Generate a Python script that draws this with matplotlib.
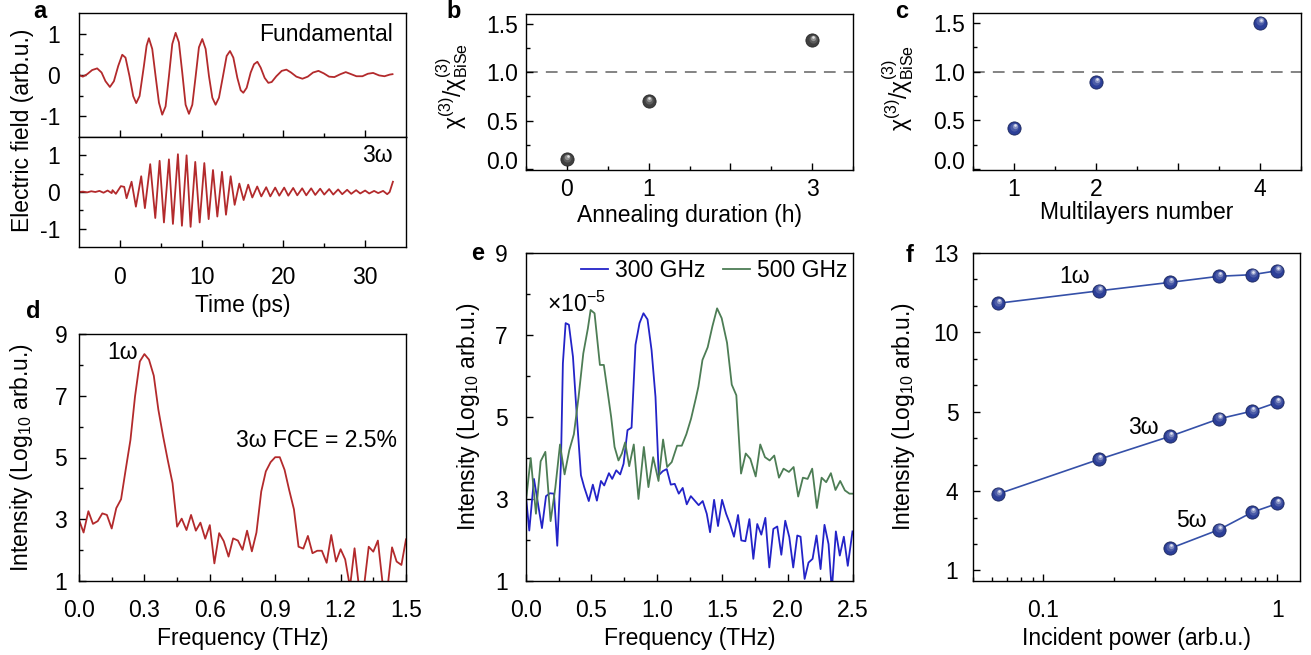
import numpy as np
import matplotlib
matplotlib.use("Agg")
import matplotlib.pyplot as plt
from matplotlib.transforms import ScaledTranslation
from matplotlib.colors import to_rgb
from matplotlib.ticker import MultipleLocator, FixedLocator, NullFormatter, LogLocator

plt.rcParams['font.family'] = ['Liberation Sans', 'DejaVu Sans']
plt.rcParams['mathtext.fontset'] = 'custom'
plt.rcParams['mathtext.rm'] = 'Liberation Sans'
plt.rcParams['mathtext.it'] = 'Liberation Sans:italic'
plt.rcParams['mathtext.bf'] = 'Liberation Sans:bold'
plt.rcParams['axes.linewidth'] = 1.0
plt.rcParams['lines.solid_joinstyle'] = 'round'

FS = 16.5   # labels and annotations
TS = 16.5   # tick labels

# ---- panel a: time-domain waveforms ----
t_fund = [-5.02, -4.53, -4.0, -3.39, -2.78, -2.24, -1.76, -1.22, -0.73, -0.2, 0.29, 0.69,
          1.18, 1.63, 2.0, 2.41, 2.94, 3.27, 3.55, 3.96, 4.37, 4.78, 5.18, 5.59, 6.0, 6.41,
          6.82, 7.22, 7.63, 8.04, 8.45, 8.86, 9.27, 9.67, 10.08, 10.49, 10.9, 11.31, 11.71,
          12.12, 12.61, 13.06, 13.47, 13.88, 14.37, 14.78, 15.1, 15.51, 16.0, 16.41, 16.82,
          17.22, 17.71, 18.16, 18.57, 19.14, 19.8, 20.37, 20.94, 21.59, 22.33, 22.98, 23.63,
          24.29, 24.94, 25.59, 26.24, 26.98, 27.63, 28.29, 28.94, 29.67, 30.33, 30.98, 31.71,
          32.37, 33.02, 33.35]
e_fund = [0.0, -0.04, 0.02, 0.12, 0.16, 0.06, -0.15, -0.29, -0.15, 0.22, 0.49, 0.42,
          -0.03, -0.51, -0.68, -0.51, 0.22, 0.71, 0.89, 0.63, -0.03, -0.67, -0.96, -0.76,
          -0.03, 0.75, 1.02, 0.79, 0.06, -0.72, -0.94, -0.72, -0.03, 0.67, 0.87, 0.63,
          -0.03, -0.55, -0.72, -0.55, -0.03, 0.46, 0.58, 0.42, -0.07, -0.37, -0.43, -0.31,
          0.06, 0.26, 0.32, 0.18, -0.07, -0.19, -0.17, -0.03, 0.1, 0.13, 0.06, -0.04, -0.09,
          -0.04, 0.06, 0.1, 0.04, -0.04, -0.05, 0.02, 0.07, 0.02, -0.03, -0.03, 0.03, 0.05,
          -0.01, -0.03, 0.01, 0.02]

t_third = [-5.0, -4.5, -4.0, -3.5, -3.0, -2.5, -2.0, -1.5, -1.0, -0.9, -0.49, 0.12, 0.53,
           0.82, 1.43, 1.96, 2.61, 3.06, 3.71, 4.33, 4.86, 5.39, 6.0, 6.49, 7.1, 7.59, 8.16,
           8.65, 9.22, 9.76, 10.33, 10.86, 11.39, 11.92, 12.49, 12.98, 13.55, 14.04, 14.61,
           15.14, 15.7, 16.2, 16.8, 17.3, 17.9, 18.4, 19.0, 19.5, 20.1, 20.6, 21.2, 21.7,
           22.3, 22.8, 23.4, 23.9, 24.5, 25.0, 25.6, 26.1, 26.7, 27.2, 27.8, 28.3, 28.9,
           29.4, 30.0, 30.5, 31.1, 31.6, 32.2, 32.7, 33.0, 33.4]
e_third = [0.0, 0.01, -0.01, 0.02, 0.0, 0.03, -0.02, 0.04, -0.03, 0.05, -0.05, 0.16, 0.14,
           -0.17, 0.28, -0.40, 0.43, -0.44, 0.76, -0.71, 0.85, -0.83, 0.89, -0.87, 1.03,
           -0.92, 1.0, -0.95, 0.82, -0.83, 0.79, -0.74, 0.6, -0.67, 0.55, -0.62, 0.43, -0.35,
           0.23, -0.22, 0.2, -0.15, 0.15, -0.12, 0.13, -0.12, 0.12, -0.1, 0.12, -0.1, 0.11,
           -0.09, 0.1, -0.09, 0.1, -0.08, 0.09, -0.07, 0.08, -0.07, 0.07, -0.06, 0.06, -0.05,
           0.05, -0.04, 0.04, -0.04, 0.03, -0.03, 0.03, -0.06, 0.0, 0.28]

# ---- panels b, c: normalised chi(3) ----
anneal_h = [0, 1, 3]
chi_anneal = [0.10, 0.70, 1.33]
layers = [1, 2, 4]
chi_layers = [0.42, 0.89, 1.50]

# ---- panel d: spectrum of the 300 GHz drive ----
freq_d = [0, .021, .043, .064, .086, .107, .128, .150, .171, .193, .214, .236, .257, .279,
          .300, .321, .343, .364, .386, .407, .429, .450, .471, .493, .514, .536, .557, .579,
          .600, .621, .643, .664, .686, .707, .729, .750, .771, .793, .814, .836, .857, .879,
          .900, .921, .943, .964, .986, 1.007, 1.029, 1.050, 1.071, 1.093, 1.114, 1.136,
          1.157, 1.179, 1.200, 1.221, 1.243, 1.264, 1.286, 1.307, 1.329, 1.350, 1.371, 1.393,
          1.414, 1.436, 1.457, 1.479, 1.500]
int_d = [2.98, 2.57, 3.26, 2.85, 2.94, 3.19, 3.14, 2.70, 3.36, 3.65, 4.60, 5.57, 6.98, 8.11,
         8.35, 8.17, 7.65, 6.55, 5.68, 4.92, 4.17, 2.76, 3.02, 2.65, 3.14, 2.63, 2.89, 2.37,
         2.81, 1.57, 2.55, 2.29, 1.79, 2.38, 2.31, 2.01, 2.63, 1.96, 2.57, 3.90, 4.55, 4.85,
         5.01, 5.01, 4.60, 3.95, 3.32, 2.11, 2.05, 2.46, 1.90, 1.98, 1.98, 1.59, 2.49, 1.63,
         2.03, 1.70, 0.80, 2.06, 0.70, 0.80, 2.11, 1.95, 2.31, 0.90, 0.70, 2.09, 1.63, 1.52,
         2.35]

# ---- panel e: spectra for two drive frequencies ----
freq_300 = [0, 0.025, 0.061, 0.092, 0.122, 0.153, 0.183, 0.214, 0.239, 0.267, 0.282, 0.303,
            0.328, 0.359, 0.389, 0.42, 0.445, 0.48, 0.511, 0.542, 0.573, 0.598, 0.634, 0.659,
            0.69, 0.72, 0.746, 0.776, 0.807, 0.837, 0.868, 0.898, 0.929, 0.96, 0.99, 1.015,
            1.046, 1.076, 1.107, 1.137, 1.168, 1.198, 1.229, 1.26, 1.29, 1.32, 1.351, 1.382,
            1.407, 1.438, 1.468, 1.499, 1.53, 1.56, 1.59, 1.621, 1.646, 1.677, 1.708, 1.738,
            1.768, 1.799, 1.83, 1.86, 1.891, 1.921, 1.952, 1.982, 2.013, 2.043, 2.074, 2.099,
            2.13, 2.16, 2.191, 2.221, 2.252, 2.282, 2.313, 2.338, 2.369, 2.399, 2.43, 2.46,
            2.496]
int_300 = [3.05, 2.23, 3.49, 2.88, 2.29, 3.07, 3.14, 3.13, 1.86, 3.86, 6.31, 7.29, 7.25, 6.47,
           5.0, 3.58, 3.29, 2.95, 3.35, 2.96, 3.44, 3.33, 3.63, 3.49, 3.70, 3.6, 3.86, 4.68,
           4.74, 6.76, 7.29, 7.53, 7.38, 6.63, 5.49, 3.58, 3.68, 3.73, 3.35, 3.37, 3.13, 3.27,
           2.87, 3.07, 2.96, 2.85, 2.95, 2.64, 2.19, 2.98, 2.34, 2.98, 2.64, 2.39, 2.08, 2.61,
           1.99, 1.97, 2.51, 1.54, 2.39, 2.13, 2.54, 1.33, 2.27, 2.33, 1.64, 2.47, 2.07, 1.33,
           2.11, 2.08, 1.05, 1.45, 1.54, 2.11, 1.29, 2.37, 1.90, 0.76, 2.21, 1.62, 2.08, 1.37,
           2.21]
freq_500 = [0, 0.036, 0.076, 0.112, 0.148, 0.188, 0.224, 0.26, 0.295, 0.331, 0.366, 0.402,
            0.438, 0.473, 0.494, 0.524, 0.565, 0.595, 0.626, 0.651, 0.677, 0.707, 0.733,
            0.758, 0.789, 0.824, 0.86, 0.901, 0.936, 0.972, 1.013, 1.048, 1.079, 1.114, 1.155,
            1.191, 1.226, 1.262, 1.298, 1.318, 1.349, 1.389, 1.425, 1.461, 1.496, 1.537,
            1.573, 1.608, 1.644, 1.68, 1.715, 1.756, 1.791, 1.827, 1.863, 1.898, 1.934,
            1.969, 2.01, 2.046, 2.081, 2.117, 2.153, 2.188, 2.224, 2.26, 2.295, 2.331, 2.366,
            2.402, 2.438, 2.473, 2.5]
int_500 = [2.96, 4.0, 2.64, 3.92, 4.15, 2.46, 3.27, 4.33, 3.6, 4.19, 4.58, 5.49, 6.55, 7.16,
           7.61, 7.53, 6.27, 6.27, 5.57, 5.0, 4.27, 3.94, 4.11, 4.38, 3.80, 4.33, 3.0, 4.27,
           3.29, 4.02, 3.44, 4.45, 3.78, 3.9, 4.3, 4.3, 4.58, 4.96, 5.45, 5.74, 6.39, 6.70,
           7.21, 7.65, 7.41, 6.81, 5.79, 5.53, 3.62, 4.11, 3.98, 3.55, 4.33, 4.02, 3.94,
           4.06, 3.52, 3.74, 3.66, 3.78, 3.06, 3.52, 3.49, 3.74, 2.78, 3.52, 3.41, 3.63,
           3.22, 3.44, 3.21, 3.13, 3.13]

# ---- panel f: harmonic intensity vs incident power ----
power = [0.064, 0.173, 0.348, 0.563, 0.781, 1.0]
int_1w = [11.1, 11.57, 11.89, 12.12, 12.18, 12.33]
int_3w = [3.89, 4.40, 4.69, 4.91, 5.04, 5.59]
power_5w = [0.348, 0.563, 0.781, 1.0]
int_5w = [1.83, 2.54, 3.2, 3.53]
f_ticks = [1, 4, 5, 10, 13]

RED = '#b32a2c'
BLUE_LINE = '#2323c8'
GREEN_LINE = '#4d7d55'
SPHERE_BLUE = '#2c3f98'
SPHERE_GRAY = '#404040'

W, H = 1311, 655
fig = plt.figure(figsize=(W / 100, H / 100), dpi=100)


def axes_px(l, t, r, b):
    return fig.add_axes([l / W, 1 - b / H, (r - l) / W, (b - t) / H])


def style(ax, xpad=10, ypad=8):
    ax.tick_params(which='both', direction='in', top=False, right=False,
                   labelsize=TS, width=1.0)
    ax.tick_params(which='major', length=5)
    ax.tick_params(which='minor', length=3)
    ax.tick_params(axis='x', pad=xpad)
    ax.tick_params(axis='y', pad=ypad)


def mix_white(c, a):
    r, g, b = to_rgb(c)
    return (r + (1 - r) * a, g + (1 - g) * a, b + (1 - b) * a)


def spheres(ax, x, y, base, ms=9.5, z=4):
    r, g, b = to_rgb(base)
    ax.plot(x, y, 'o', ls='none', ms=ms, mfc=base, mec=(r * 0.6, g * 0.6, b * 0.6),
            mew=0.6, zorder=z)
    for k, (frac, a) in enumerate([(0.62, 0.15), (0.4, 0.42), (0.2, 0.85)]):
        off = ms * (1 - frac) * 0.3
        tr = ax.transData + ScaledTranslation(0.25 * off / 72, off / 72, fig.dpi_scale_trans)
        ax.plot(x, y, 'o', ls='none', ms=ms * frac, mfc=mix_white(base, a), mec='none',
                transform=tr, zorder=z + 1 + k)


def letter(x, y, s):
    fig.text(x / W, 1 - y / H, s, fontsize=17, fontweight='bold', ha='left', va='center')


# a: fundamental and third-harmonic fields
ax_a1 = axes_px(79, 13, 406, 137)
ax_a2 = axes_px(79, 137, 406, 247)
ax_a1.plot(t_fund, e_fund, color=RED, lw=1.3)
ax_a2.plot(t_third, e_third, color=RED, lw=1.3)
for ax in (ax_a1, ax_a2):
    ax.set_xlim(-5, 35)
    ax.set_ylim(-1.5, 1.5)
    ax.xaxis.set_major_locator(FixedLocator([0, 10, 20, 30]))
    ax.xaxis.set_minor_locator(FixedLocator([5, 15, 25]))
    ax.set_yticks([-1, 0, 1])
    ax.set_yticklabels(['-1', '0', '1'])
    ax.yaxis.set_minor_locator(FixedLocator([-0.5, 0.5]))
    style(ax, xpad=13.5, ypad=13.5)
ax_a1.tick_params(axis='x', labelbottom=False)
ax_a1.text(0.96, 0.83, 'Fundamental', transform=ax_a1.transAxes, fontsize=FS,
           ha='right', va='center')
ax_a2.text(0.96, 0.83, '3ω', transform=ax_a2.transAxes, fontsize=FS,
           ha='right', va='center')
ax_a2.set_xlabel('Time (ps)', fontsize=FS)
ax_a2.xaxis.set_label_coords(0.5, -0.43)
fig.text(22 / W, 1 - 130 / H, 'Electric field (arb.u.)', rotation=90, fontsize=FS,
         ha='center', va='center')

chi_label = r'$\mathrm{χ}^{(3)}/\mathrm{χ}^{(3)}_{\mathrm{BiSe}}$'

# b: annealing duration
ax_b = axes_px(526, 14, 853, 170)
ax_b.axhline(1.0, color='#7a7a7a', lw=1.3, ls=(0, (6.5, 4.5)), zorder=1)
spheres(ax_b, anneal_h, chi_anneal, SPHERE_GRAY)
ax_b.set_xlim(-0.5, 3.5)
ax_b.set_ylim(-0.01, 1.6)
ax_b.xaxis.set_major_locator(FixedLocator([0, 1, 2, 3]))
ax_b.set_xticklabels(['0', '1', '', '3'])
ax_b.xaxis.set_minor_locator(MultipleLocator(0.5))
ax_b.set_yticks([0, 0.5, 1.0, 1.5])
ax_b.set_yticklabels(['0.0', '0.5', '1.0', '1.5'])
ax_b.yaxis.set_minor_locator(MultipleLocator(0.25))
style(ax_b, xpad=6, ypad=6)
ax_b.set_xlabel('Annealing duration (h)', fontsize=FS)
ax_b.xaxis.set_label_coords(0.5, -0.215)
ax_b.set_ylabel(chi_label, fontsize=FS)
ax_b.yaxis.set_label_coords(-0.17, 0.54)

# c: number of multilayers
ax_c = axes_px(973, 13, 1301, 170)
ax_c.axhline(1.0, color='#7a7a7a', lw=1.3, ls=(0, (6.5, 4.5)), zorder=1)
spheres(ax_c, layers, chi_layers, SPHERE_BLUE)
ax_c.set_xlim(0.5, 4.5)
ax_c.set_ylim(-0.01, 1.6)
ax_c.xaxis.set_major_locator(FixedLocator([1, 2, 3, 4]))
ax_c.set_xticklabels(['1', '2', '', '4'])
ax_c.xaxis.set_minor_locator(MultipleLocator(0.5))
ax_c.set_yticks([0, 0.5, 1.0, 1.5])
ax_c.set_yticklabels(['0.0', '0.5', '1.0', '1.5'])
ax_c.yaxis.set_minor_locator(MultipleLocator(0.25))
style(ax_c, xpad=6, ypad=6)
ax_c.set_xlabel('Multilayers number', fontsize=FS)
ax_c.xaxis.set_label_coords(0.5, -0.2)
ax_c.set_ylabel(chi_label, fontsize=FS)
ax_c.yaxis.set_label_coords(-0.175, 0.52)

# the 0.0 label sits above the bottom spine
for ax in (ax_b, ax_c):
    ax.yaxis.get_major_ticks()[0].label1.set_verticalalignment('baseline')

int_label = r'Intensity (Log$_{10}$ arb.u.)'

# d: spectrum, 300 GHz drive
ax_d = axes_px(79, 334, 406, 581)
ax_d.plot(freq_d, int_d, color=RED, lw=1.3)
ax_d.set_xlim(0, 1.5)
ax_d.set_ylim(1, 9)
ax_d.xaxis.set_major_locator(MultipleLocator(0.3))
ax_d.xaxis.set_minor_locator(MultipleLocator(0.15))
ax_d.xaxis.set_major_formatter(plt.FormatStrFormatter('%.1f'))
ax_d.set_yticks([1, 3, 5, 7, 9])
ax_d.yaxis.set_minor_locator(MultipleLocator(1))
style(ax_d, xpad=13, ypad=8.5)
ax_d.text(0.27, 8.4, '1ω', fontsize=FS, ha='right', va='center')
ax_d.text(0.72, 5.55, '3ω FCE = 2.5%', fontsize=FS, ha='left', va='center')
ax_d.set_xlabel('Frequency (THz)', fontsize=FS)
ax_d.xaxis.set_label_coords(0.5, -0.185)
ax_d.set_ylabel(int_label, fontsize=FS)
ax_d.yaxis.set_label_coords(-0.135, 0.5)

# e: spectra for 300 and 500 GHz drives
ax_e = axes_px(526, 253, 853, 581)
ax_e.plot(freq_300, int_300, color=BLUE_LINE, lw=1.3, label='300 GHz')
ax_e.plot(freq_500, int_500, color=GREEN_LINE, lw=1.3, label='500 GHz')
ax_e.set_xlim(0, 2.5)
ax_e.set_ylim(1, 9)
ax_e.xaxis.set_major_locator(MultipleLocator(0.5))
ax_e.xaxis.set_minor_locator(MultipleLocator(0.25))
ax_e.xaxis.set_major_formatter(plt.FormatStrFormatter('%.1f'))
ax_e.set_yticks([1, 3, 5, 7, 9])
ax_e.yaxis.set_minor_locator(MultipleLocator(1))
style(ax_e, xpad=13, ypad=13)
ax_e.text(0.16, 7.76, r'×10$^{-5}$', fontsize=FS, ha='left', va='center')
ax_e.legend(loc='upper right', ncol=2, frameon=False, fontsize=FS, handlelength=1.2,
            handletextpad=0.3, columnspacing=0.75, borderaxespad=0.1, borderpad=0.15)
ax_e.set_xlabel('Frequency (THz)', fontsize=FS)
ax_e.xaxis.set_label_coords(0.5, -0.14)
ax_e.set_ylabel(int_label, fontsize=FS)
ax_e.yaxis.set_label_coords(-0.135, 0.5)

# f: power dependence on a segmented vertical scale
seg_vals = [-2, 1, 4, 5, 10, 13, 16]
seg_pos = [-1, 0, 1, 2, 3, 4, 5]
ax_f = axes_px(973, 253, 1300, 581)
ax_f.set_xscale('log')
ax_f.set_yscale('function', functions=(lambda v: np.interp(v, seg_vals, seg_pos),
                                        lambda p: np.interp(p, seg_pos, seg_vals)))
for xs, ys in ((power, int_1w), (power, int_3w), (power_5w, int_5w)):
    ax_f.plot(xs, ys, color='#3550a8', lw=1.2, zorder=2)
    spheres(ax_f, xs, ys, SPHERE_BLUE)
ax_f.set_xlim(0.05, 1.25)
ax_f.set_ylim(0.6, 13)
ax_f.xaxis.set_major_locator(FixedLocator([0.1, 1]))
ax_f.set_xticklabels(['0.1', '1'])
ax_f.xaxis.set_minor_locator(LogLocator(subs=np.arange(2, 10)))
ax_f.xaxis.set_minor_formatter(NullFormatter())
ax_f.yaxis.set_major_locator(FixedLocator(f_ticks))
ax_f.set_yticklabels([str(v) for v in f_ticks])
ax_f.yaxis.set_minor_locator(FixedLocator([2, 3, 4 + 1 / 3, 4 + 2 / 3, 5 + 5 / 3,
                                           5 + 10 / 3, 11, 12]))
ax_f.yaxis.set_minor_formatter(NullFormatter())
style(ax_f, xpad=13, ypad=10.5)
ax_f.text(0.158, 12.1, '1ω', fontsize=FS, ha='right', va='center')
ax_f.text(0.312, 4.8, '3ω', fontsize=FS, ha='right', va='center')
ax_f.text(0.497, 2.9, '5ω', fontsize=FS, ha='right', va='center')
ax_f.set_xlabel('Incident power (arb.u.)', fontsize=FS)
ax_f.xaxis.set_label_coords(0.5, -0.14)
ax_f.set_ylabel(int_label, fontsize=FS)
ax_f.yaxis.set_label_coords(-0.17, 0.5)

letter(33, 11, 'a')
letter(446, 11, 'b')
letter(895, 11, 'c')
letter(26, 312, 'd')
letter(471, 254, 'e')
letter(906, 256, 'f')

fig.savefig('out.png', dpi=100)
